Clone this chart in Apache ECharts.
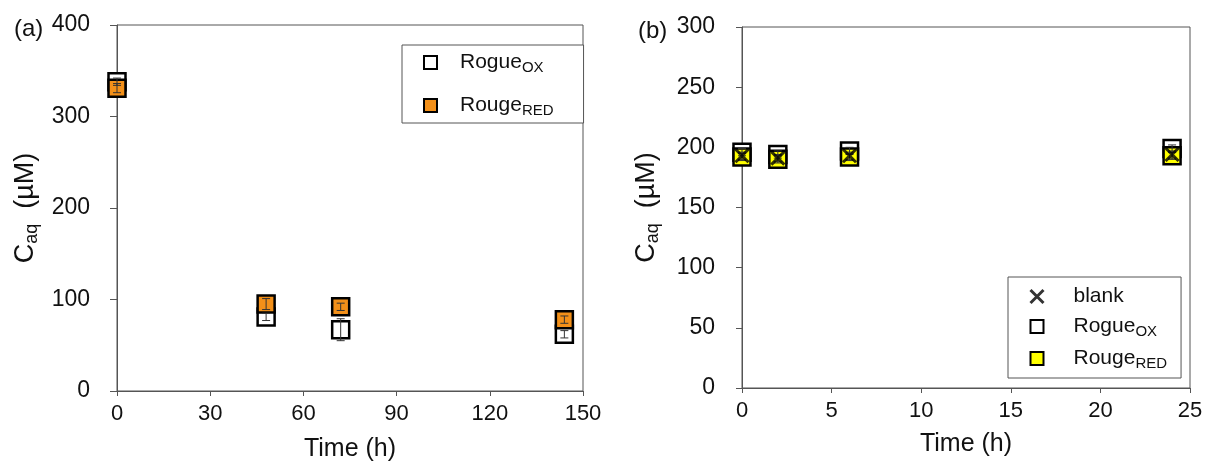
<!DOCTYPE html>
<html>
<head>
<meta charset="utf-8">
<script src="https://cdn.jsdelivr.net/npm/echarts@6/dist/echarts.min.js"></script>
<style>
  html, body { margin: 0; padding: 0; background: #fff; }
  #chart { width: 1205px; height: 462px; }
</style>
</head>
<body>
<div id="chart"></div>
<script>
// Panel (a): aqueous concentration over 144 h
const timeA = [0, 48, 72, 144];
const oxA = [338, 81, 67, 62];
const oxErrA = [4, 4, 12, 4];
const redA = [331, 95, 92, 78];
const redErrA = [5, 6, 4, 4];

// Panel (b): first 24 h, with blank control
const timeB = [0, 2, 6, 24];
const blankB = [193, 191, 193, 194];
const blankErrB = [3, 3, 3, 3];
const oxB = [196, 194, 197, 199];
const oxErrB = [3, 3, 3, 3];
const redB = [192, 190, 192, 193];
const redErrB = [3, 3, 3, 3];

const ticksAX = [0, 30, 60, 90, 120, 150];
const ticksAY = [0, 100, 200, 300, 400];
const ticksBX = [0, 5, 10, 15, 20, 25];
const ticksBY = [0, 50, 100, 150, 200, 250, 300];

const FONT = 'Liberation Sans, Arial, sans-serif';
const AXIS_COLOR = '#555';
const TEXT_COLOR = '#111';
const ORANGE = '#F39019';
const YELLOW = '#FFFF00';
const X_PATH = 'path://M0,0L10,10M10,0L0,10';

const pts = (xs, ys) => xs.map((x, i) => [x, ys[i]]);
const errs = (xs, ys, es) => xs.map((x, i) => [x, ys[i] - es[i], ys[i] + es[i]]);

function errorBars(name, data, xi, yi) {
  return {
    type: 'custom',
    name: name + '_err',
    xAxisIndex: xi, yAxisIndex: yi,
    z: 5,
    silent: true,
    data: data,
    renderItem: function (params, api) {
      const x = api.value(0);
      const lo = api.coord([x, api.value(1)]);
      const hi = api.coord([x, api.value(2)]);
      const w = 4;
      const st = { stroke: '#333', lineWidth: 1 };
      return {
        type: 'group',
        children: [
          { type: 'line', shape: { x1: lo[0], y1: lo[1], x2: hi[0], y2: hi[1] }, style: st },
          { type: 'line', shape: { x1: lo[0] - w, y1: lo[1], x2: lo[0] + w, y2: lo[1] }, style: st },
          { type: 'line', shape: { x1: hi[0] - w, y1: hi[1], x2: hi[0] + w, y2: hi[1] }, style: st }
        ]
      };
    }
  };
}

function axisCommon(ticks, fontSize, margin, tickLen) {
  return {
    min: ticks[0],
    max: ticks[ticks.length - 1],
    interval: ticks[1] - ticks[0],
    axisLine: { show: true, onZero: false, lineStyle: { color: AXIS_COLOR, width: 1 } },
    axisTick: { show: true, inside: false, length: tickLen, lineStyle: { color: AXIS_COLOR } },
    splitLine: { show: false },
    axisLabel: { color: TEXT_COLOR, fontSize: fontSize, fontFamily: FONT, margin: margin }
  };
}

const yName = '{m|C}{s|aq}{m|  (µM)}';
const nameRich = {
  m: { fontSize: 27, fontFamily: FONT, color: TEXT_COLOR },
  s: { fontSize: 18, fontFamily: FONT, color: TEXT_COLOR, padding: [13, 0, 0, 0] }
};

function legendRich(gap) {
  return {
    m: { fontSize: 21, fontFamily: FONT, color: TEXT_COLOR, padding: [0, 0, 0, gap] },
    s: { fontSize: 15, fontFamily: FONT, color: TEXT_COLOR, padding: [10, 0, 0, 0] }
  };
}
const legendLabels = {
  'Rogue_OX': '{m|Rogue}{s|OX}',
  'Rouge_RED': '{m|Rouge}{s|RED}',
  'blank': '{m|blank}'
};

const xNameStyle = { fontSize: 25, fontFamily: FONT, color: TEXT_COLOR };
const panelTitle = { fontSize: 24, fontWeight: 'normal', fontFamily: FONT, color: TEXT_COLOR };

const option = {
  animation: false,
  backgroundColor: '#fff',
  title: [
    { text: '(a)', left: 9, top: 12, textStyle: panelTitle },
    { text: '(b)', left: 633, top: 14, textStyle: panelTitle }
  ],
  grid: [
    { left: 117, top: 25, width: 466, height: 366, outerBoundsMode: 'none', containLabel: false,
      show: true, borderColor: AXIS_COLOR, borderWidth: 1, backgroundColor: 'transparent' },
    { left: 742, top: 27, width: 448, height: 361, outerBoundsMode: 'none', containLabel: false,
      show: true, borderColor: AXIS_COLOR, borderWidth: 1, backgroundColor: 'transparent' }
  ],
  xAxis: [
    Object.assign(axisCommon(ticksAX, 22, 12, 5), { type: 'value', gridIndex: 0, name: 'Time (h)', nameLocation: 'middle', nameGap: 46,
      nameTextStyle: xNameStyle }),
    Object.assign(axisCommon(ticksBX, 22, 12, 5), { type: 'value', gridIndex: 1, name: 'Time (h)', nameLocation: 'middle', nameGap: 44,
      nameTextStyle: xNameStyle })
  ],
  yAxis: [
    Object.assign(axisCommon(ticksAY, 23, 27, 7), { type: 'value', gridIndex: 0, name: yName, nameLocation: 'middle', nameGap: 76,
      nameTextStyle: { rich: nameRich } }),
    Object.assign(axisCommon(ticksBY, 23, 27, 6), { type: 'value', gridIndex: 1, name: yName, nameLocation: 'middle', nameGap: 80,
      nameTextStyle: { rich: nameRich } })
  ],
  legend: [
    {
      orient: 'vertical', left: 402, top: 45,
      padding: [7, 30, 5, 21],
      itemGap: 20, itemWidth: 13, itemHeight: 13,
      borderColor: AXIS_COLOR, borderWidth: 1, backgroundColor: '#fff',
      selectedMode: false,
      formatter: n => legendLabels[n],
      textStyle: { rich: legendRich(18) },
      data: [
        { name: 'Rogue_OX', icon: 'rect', itemStyle: { color: '#fff', borderColor: '#000', borderWidth: 2 } },
        { name: 'Rouge_RED', icon: 'rect', itemStyle: { color: ORANGE, borderColor: '#000', borderWidth: 2 } }
      ]
    },
    {
      orient: 'vertical', left: 1008, top: 277,
      padding: [9, 14, 7, 20],
      itemGap: 9, itemWidth: 13, itemHeight: 13,
      borderColor: AXIS_COLOR, borderWidth: 1, backgroundColor: '#fff',
      selectedMode: false,
      formatter: n => legendLabels[n],
      textStyle: { rich: legendRich(25) },
      data: [
        { name: 'blank', icon: X_PATH, itemStyle: { color: 'none', borderColor: '#000', borderWidth: 3 } },
        { name: 'Rogue_OX', icon: 'rect', itemStyle: { color: '#fff', borderColor: '#000', borderWidth: 2 } },
        { name: 'Rouge_RED', icon: 'rect', itemStyle: { color: YELLOW, borderColor: '#000', borderWidth: 2 } }
      ]
    }
  ],
  series: [
    // panel (a)
    { type: 'scatter', name: 'Rogue_OX', xAxisIndex: 0, yAxisIndex: 0, symbol: 'rect', symbolSize: 17, z: 3,
      itemStyle: { color: '#fff', borderColor: '#000', borderWidth: 2.5, opacity: 1 }, data: pts(timeA, oxA) },
    errorBars('Rogue_OX', errs(timeA, oxA, oxErrA), 0, 0),
    { type: 'scatter', name: 'Rouge_RED', xAxisIndex: 0, yAxisIndex: 0, symbol: 'rect', symbolSize: 17, z: 4,
      itemStyle: { color: ORANGE, borderColor: '#000', borderWidth: 2.5, opacity: 1 }, data: pts(timeA, redA) },
    errorBars('Rouge_RED', errs(timeA, redA, redErrA), 0, 0),
    // panel (b)
    { type: 'scatter', name: 'Rogue_OX', xAxisIndex: 1, yAxisIndex: 1, symbol: 'rect', symbolSize: 17, z: 3,
      itemStyle: { color: '#fff', borderColor: '#000', borderWidth: 2.5, opacity: 1 }, data: pts(timeB, oxB) },
    errorBars('Rogue_OX', errs(timeB, oxB, oxErrB), 1, 1),
    { type: 'scatter', name: 'Rouge_RED', xAxisIndex: 1, yAxisIndex: 1, symbol: 'rect', symbolSize: 17, z: 4,
      itemStyle: { color: YELLOW, borderColor: '#000', borderWidth: 2.5, opacity: 1 }, data: pts(timeB, redB) },
    errorBars('Rouge_RED', errs(timeB, redB, redErrB), 1, 1),
    { type: 'scatter', name: 'blank', xAxisIndex: 1, yAxisIndex: 1, symbol: X_PATH, symbolSize: 13, z: 6,
      itemStyle: { color: 'none', borderColor: '#000', borderWidth: 3 }, data: pts(timeB, blankB) },
    errorBars('blank', errs(timeB, blankB, blankErrB), 1, 1)
  ]
};

const chart = echarts.init(document.getElementById('chart'), null, { renderer: 'canvas' });
chart.setOption(option);
</script>
</body>
</html>
